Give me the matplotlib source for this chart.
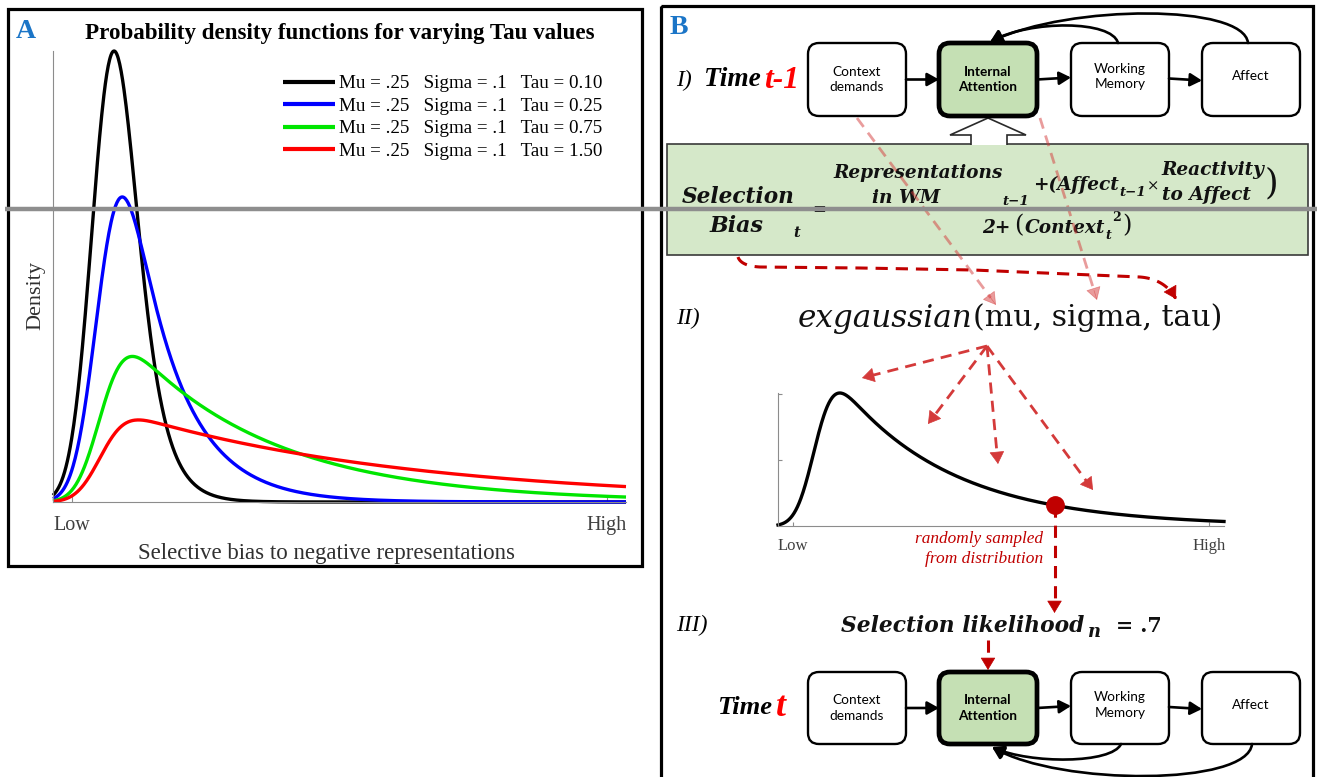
import math
import numpy as np
import matplotlib
matplotlib.use('Agg')
import matplotlib.pyplot as plt
from matplotlib.patches import FancyBboxPatch, Rectangle, Polygon, FancyArrowPatch
from matplotlib.path import Path

W, H = 1317, 777

# ---------------- data ----------------
mu_vals = [0.25, 0.25, 0.25, 0.25]
sigma_vals = [0.1, 0.1, 0.1, 0.1]
tau_vals = [0.10, 0.25, 0.75, 1.50]
curve_colors = ['#000000', '#0000ff', '#00e600', '#ff0000']
legend_labels = ['Mu = .25   Sigma = .1   Tau = 0.10',
                 'Mu = .25   Sigma = .1   Tau = 0.25',
                 'Mu = .25   Sigma = .1   Tau = 0.75',
                 'Mu = .25   Sigma = .1   Tau = 1.50']
x_range = [0.0, 3.0]
x_tick_pos = [0.1, 2.9]
x_tick_labels = ['Low', 'High']
demo_mu, demo_sigma, demo_tau = 0.25, 0.1, 0.75
sample_x = 1.86
box_labels = ['Context\ndemands', 'Internal\nAttention', 'Working\nMemory', 'Affect']

SERIF = 'Liberation Serif'
MATH = 'DejaVu Serif'
SANS = 'Lato'

_erf = np.vectorize(math.erf)


def exgauss_pdf(x, mu, sigma, tau):
    z = (x - mu) / sigma - sigma / tau
    return (1.0 / tau) * np.exp(sigma ** 2 / (2 * tau ** 2) - (x - mu) / tau) * 0.5 * (1 + _erf(z / math.sqrt(2)))


fig = plt.figure(figsize=(W / 100, H / 100), dpi=100)
fig.patch.set_facecolor('white')


def px_axes(x0, y0, x1, y1, **kw):
    return fig.add_axes([x0 / W, 1 - y1 / H, (x1 - x0) / W, (y1 - y0) / H], **kw)


# ---------------- Panel A ----------------
xs = np.linspace(x_range[0], x_range[1], 800)
axA = px_axes(53, 51, 626, 502)
axA.set_facecolor('none')
peak = 0
for mu, sg, tau, col, lab in zip(mu_vals, sigma_vals, tau_vals, curve_colors, legend_labels):
    ys = exgauss_pdf(xs, mu, sg, tau)
    peak = max(peak, ys.max())
    axA.plot(xs, ys, color=col, lw=2.4, label=lab, clip_on=False, solid_capstyle='butt')
axA.set_xlim(x_range)
axA.set_ylim(0, peak)
for s in ['top', 'right']:
    axA.spines[s].set_visible(False)
for s in ['left', 'bottom']:
    axA.spines[s].set_color('#8c8c8c')
    axA.spines[s].set_linewidth(0.8)
axA.set_yticks([])
axA.set_xticks(x_tick_pos)
axA.set_xticklabels(x_tick_labels, fontfamily=SERIF, fontsize=14.5, color='#404040')
axA.tick_params(axis='x', direction='in', length=4, color='#8c8c8c', pad=10)
axA.set_xlabel('Selective bias to negative representations', fontfamily=SERIF, fontsize=16.5, color='#303030')
axA.xaxis.set_label_coords((327 - 53) / 573, (502 - 543) / 451)
axA.set_ylabel('Density', fontfamily=SERIF, fontsize=16, color='#303030')
axA.yaxis.set_label_coords((45 - 53) / 573, (502 - 295) / 451)
axA.text(0.5, (502 - 34) / 451, 'Probability density functions for varying Tau values',
         transform=axA.transAxes, ha='center', va='center', fontfamily=SERIF,
         fontweight='bold', fontsize=16.6)
leg = axA.legend(loc='upper left', bbox_to_anchor=(283 / W, 1 - 75 / H), bbox_transform=fig.transFigure,
                 frameon=False, prop={'family': SERIF, 'size': 13.7}, handlelength=2.75,
                 handletextpad=0.2, labelspacing=0.27, borderpad=0, borderaxespad=0)
for l in leg.get_lines():
    l.set_linewidth(3)

# ---------------- Panel B small chart ----------------
axB = px_axes(778, 393, 1224, 526)
axB.set_facecolor('none')
yd = exgauss_pdf(xs, demo_mu, demo_sigma, demo_tau)
axB.plot(xs, yd, color='black', lw=2.4, clip_on=False)
sy = float(exgauss_pdf(np.array([sample_x]), demo_mu, demo_sigma, demo_tau)[0])
axB.plot([sample_x], [sy], 'o', color='#c00000', ms=12.5, clip_on=False, zorder=5)
axB.set_xlim(x_range)
axB.set_ylim(0, yd.max())
for s in ['top', 'right']:
    axB.spines[s].set_visible(False)
for s in ['left', 'bottom']:
    axB.spines[s].set_color('#8c8c8c')
    axB.spines[s].set_linewidth(0.8)
axB.set_xticks(x_tick_pos)
axB.set_xticklabels(x_tick_labels, fontfamily=SERIF, fontsize=12, color='#404040')
axB.set_yticks([0.5, 1.0])
axB.set_yticklabels([])
axB.tick_params(direction='in', length=3, color='#8c8c8c')
axB.tick_params(axis='x', pad=9)

# ---------------- overlay ----------------
ov = fig.add_axes([0, 0, 1, 1], zorder=10)
ov.set_xlim(0, W)
ov.set_ylim(H, 0)
ov.axis('off')

fig.canvas.draw()
renderer = fig.canvas.get_renderer()


def txt(x, y, s, width=None, size=12, ha='left', va='center', **kw):
    t = ov.text(x, y, s, ha=ha, va=va, fontsize=size, **kw)
    if width:
        bb = t.get_window_extent(renderer)
        t.set_fontsize(size * width / bb.width)
    return t


def right(t):
    return t.get_window_extent(renderer).x1


# panel borders
ov.add_patch(Rectangle((8, 9), 634, 557, fill=False, lw=2.3, ec='black'))
ov.add_patch(Rectangle((661, 6), 652, 820, fill=False, lw=2.3, ec='black'))

# panel letters
txt(16, 31, 'A', size=20, color='#1b75c7', fontfamily=SERIF, fontweight='bold')
txt(670, 27, 'B', size=20, color='#1b75c7', fontfamily=SERIF, fontweight='bold')

# boxes
box_x = [808, 939, 1071, 1202]
box_w = 98


def draw_row(y0, y1):
    for i, (bx, lab) in enumerate(zip(box_x, box_labels)):
        green = i == 1
        ov.add_patch(FancyBboxPatch((bx, y0), box_w, y1 - y0,
                                    boxstyle='round,pad=0,rounding_size=11',
                                    fc='#c5e0b4' if green else 'white', ec='black',
                                    lw=3.4 if green else 1.7, zorder=3))
        cy = (y0 + y1) / 2 - (3 if lab.startswith('Working') or lab == 'Affect' else 0)
        ov.text(bx + box_w / 2, cy, lab, ha='center', va='center', fontfamily=SANS,
                fontsize=9.8, fontweight='bold' if green else 'normal', linespacing=1.35, zorder=4)


HEAD = '-|>,head_length=0.5,head_width=0.28'


def arrow(p0, p1, color='black', lw=1.9, ms=14, z=4):
    ov.annotate('', xy=p1, xytext=p0,
                arrowprops=dict(arrowstyle=HEAD, color=color, lw=lw,
                                mutation_scale=ms, shrinkA=0, shrinkB=0),
                zorder=z)


def curved(p0, c1, c2, p1, lw=1.9, ms=14):
    pth = Path([p0, c1, c2, p1], [Path.MOVETO, Path.CURVE4, Path.CURVE4, Path.CURVE4])
    ov.add_patch(FancyArrowPatch(path=pth, arrowstyle=HEAD, color='black', lw=lw,
                                 mutation_scale=ms, shrinkA=0, shrinkB=0, zorder=4,
                                 transform=ov.transData))


top0, top1 = 43, 116
bot0, bot1 = 672, 744
draw_row(top0, top1)
draw_row(bot0, bot1)
for (y0, y1) in [(top0, top1), (bot0, bot1)]:
    ym = (y0 + y1) / 2
    arrow((906, ym), (939, ym))
    arrow((1037, ym), (1071, ym - 2))
    arrow((1169, ym - 1), (1202, ym + 1))
# feedback arcs (top)
curved((1118, 43), (1112, 20), (1030, 20), (990, 42))
curved((1248, 43), (1244, 4), (1070, 4), (990, 42))
# feedback arcs (bottom)
curved((1121, 744), (1112, 764), (1030, 764), (992, 747))
curved((1252, 744), (1248, 786), (1060, 786), (992, 747))

# formula box and hollow arrow
ov.add_patch(Rectangle((667, 144), 641, 111, fc='#d5e8c9', ec='#3a3a3a', lw=1.2, zorder=2))
ov.add_patch(Polygon([(971, 145), (971, 135), (950, 135), (988, 118), (1026, 135),
                      (1007, 135), (1007, 145)], closed=False, fc='white', ec='#2a2a2a', lw=1.2, zorder=2.5))

# time labels
txt(676, 80, 'I)', size=17, fontfamily=SERIF, fontstyle='italic')
txt(704, 80, 'Time', width=57, size=20, fontfamily=SERIF, fontstyle='italic', fontweight='bold')
txt(764, 80, 't-1', width=35, size=20, fontfamily=SERIF, fontstyle='italic', fontweight='bold', color='#ff0000')
txt(717, 708, 'Time', width=55, size=20, fontfamily=SERIF, fontstyle='italic', fontweight='bold')
txt(776, 708, 't', width=10, size=20, fontfamily=SERIF, fontstyle='italic', fontweight='bold', color='#ff0000')
txt(676, 318, 'II)', size=17, fontfamily=SERIF, fontstyle='italic')
txt(676, 625, 'III)', size=17, fontfamily=SERIF, fontstyle='italic')

# formula
FB = dict(fontfamily=MATH, fontstyle='italic', fontweight='bold', color='#111111', zorder=5)
FR = dict(fontfamily=MATH, color='#111111', zorder=5)
txt(682, 203, 'Selection', width=113, size=15, va='baseline', **FB)
txt(710, 232, 'Bias', width=54, size=15, va='baseline', **FB)
txt(793, 237, 't', size=10.5, va='baseline', **FB)
txt(812, 214, '=', width=14, size=14, va='baseline', fontfamily=MATH, fontweight='bold', color='#111111', zorder=5)
rep = txt(833, 178, 'Representations', width=170, size=14, va='baseline', **FB)
S = rep.get_fontsize()
txt(906, 203, 'in WM', size=S, ha='center', va='baseline', **FB)
txt(1002, 205, 't−1', size=S * 0.72, va='baseline', **FB)
aff = txt(1033, 190, '+(Affect', size=S, va='baseline', **FB)
sub1 = txt(right(aff) + 1, 196, 't−1', size=S * 0.72, va='baseline', **FB)
times = txt(right(sub1) + 1, 187, '×', size=S * 0.8, va='center', **FR)
rx = right(times) + 2
rea = txt(rx, 175, 'Reactivity', size=S, va='baseline', **FB)
toa = txt(rx, 200, 'to Affect', size=S, va='baseline', **FB)
txt(max(right(rea), right(toa)) + 7, 183, ')', size=S * 1.9, ha='center', **FR)
two = txt(982, 233, '2+', size=S, va='baseline', **FB)
lp = txt(right(two) + 4, 226, '(', size=S * 1.3, va='center', **FR)
ctx = txt(right(lp) + 1, 233, 'Context', size=S, va='baseline', **FB)
ts = txt(right(ctx) + 0.5, 239, 't', size=S * 0.68, va='baseline', **FB)
sq = txt(right(ts) + 0.5, 221, '2', size=S * 0.68, va='baseline', fontfamily=MATH, fontweight='bold',
         color='#111111', zorder=5)
txt(right(sq) + 1, 226, ')', size=S * 1.3, va='center', **FR)

# exgaussian
txt(798, 318, 'exgaussian', width=175, size=24, fontfamily=MATH, fontstyle='italic', color='#111111')
txt(973, 318, '(mu, sigma, tau)', width=249, size=24, fontfamily=MATH, color='#111111')

# selection likelihood
SB = dict(fontfamily=MATH, fontstyle='italic', fontweight='bold', color='#111111')
txt(841, 632, 'Selection likelihood', width=243, size=16, va='baseline', **SB)
txt(1088, 637, 'n', width=13, size=11, va='baseline', **SB)
txt(1116, 632, '= .7', width=46, size=16, va='baseline', fontfamily=MATH, fontweight='bold', color='#111111')

# sampled text
RI = dict(fontfamily=SERIF, fontstyle='italic', color='#c00000')
txt(1043, 539, 'randomly sampled', width=128, size=13, ha='right', **RI)
txt(1043, 559, 'from distribution', width=117, size=13, ha='right', **RI)

# dashed arrows


def bez(p0, p1, p2, n=30):
    t = np.linspace(0, 1, n)[:, None]
    p0, p1, p2 = map(np.array, (p0, p1, p2))
    return (1 - t) ** 2 * p0 + 2 * (1 - t) * t * p1 + t ** 2 * p2


def dashed(pts, color, lw=2.0, alpha=1.0, z=6):
    pts = np.asarray(pts, float)
    tip = pts[-1]
    d = pts[-1] - pts[-2]
    d = d / np.hypot(*d)
    base = tip - d * 9
    line = np.vstack([pts[:-1], base])
    ov.plot(line[:, 0], line[:, 1], color=color, lw=lw, alpha=alpha, ls=(0, (4, 2.6)),
            dash_capstyle='butt', zorder=z)
    ov.annotate('', xy=tuple(tip), xytext=tuple(tip - d * 10),
                arrowprops=dict(arrowstyle='-|>,head_length=0.45,head_width=0.27', color=color, lw=0.5,
                                alpha=alpha, mutation_scale=18, shrinkA=0, shrinkB=0), zorder=z)


DR = '#c00000'
MR = '#d43a3a'
# formula -> tau
path = np.vstack([bez((738, 257), (741, 266), (760, 267)),
                  np.array([[860, 268], [973, 270], [1140, 277]]),
                  bez((1140, 277), (1165, 279), (1176, 299))])
dashed(path, DR, lw=2.2)
# context -> mu ; attention -> sigma (faint)
dashed([(857, 118), (996, 305)], MR, lw=2.0, alpha=0.5)
dashed([(1040, 118), (1097, 300)], MR, lw=2.0, alpha=0.5)
# exgaussian -> curve
for tip in [(862, 378), (928, 424), (998, 464), (1093, 490)]:
    dashed([(987, 346), tip], MR, lw=2.0)
# sampled point -> selection likelihood
dx, dy = axB.transData.transform((sample_x, sy))
dashed([(dx, H - dy), (dx, 613)], DR, lw=2.2)
dashed([(988, 640), (988, 670)], DR, lw=2.2)

# gray artifact band
ov.plot([5, W], [209, 209], color='#8e8e8e', lw=3.2, zorder=50, solid_capstyle='butt')

fig.savefig('out.png', dpi=100, facecolor='white')
